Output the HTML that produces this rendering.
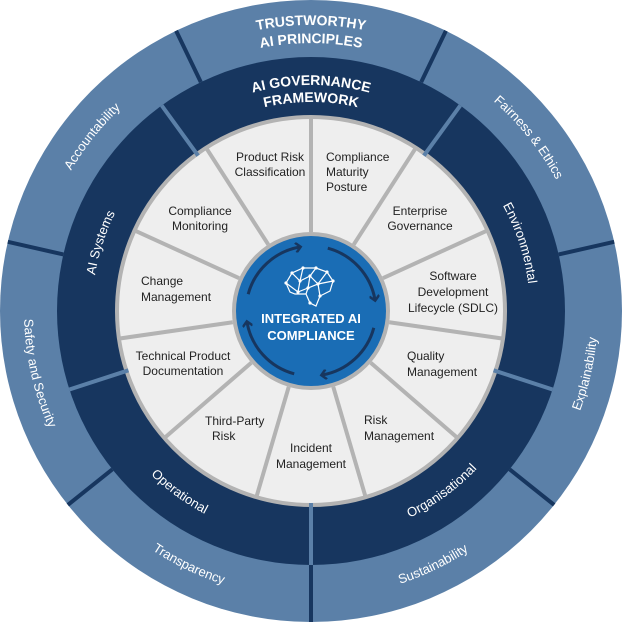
<!DOCTYPE html>
<html><head><meta charset="utf-8"><style>
html,body{margin:0;padding:0;background:#fff;}
svg{display:block;font-family:"Liberation Sans",sans-serif;}
.w{fill:#fff;font-size:13px;}
.h{fill:#fff;font-size:14px;font-weight:bold;}
.i{fill:#222;font-size:12px;}
</style></head><body>
<svg width="622" height="622" viewBox="0 0 622 622" xmlns="http://www.w3.org/2000/svg">
<defs>
<path id="cwO" d="M33,311 A278,278 0 0 1 589,311"/>
<path id="ccwO" d="M24,311 A287,287 0 0 0 598,311"/>
<path id="cwD" d="M92,311 A219,219 0 0 1 530,311"/>
<path id="ccwD" d="M82,311 A229,229 0 0 0 540,311"/>
<path id="h1" d="M25,311 A286,286 0 0 1 597,311"/>
<path id="h2" d="M43,311 A268,268 0 0 1 579,311"/>
<path id="h3" d="M85,311 A226,226 0 0 1 537,311"/>
<path id="h4" d="M102,311 A209,209 0 0 1 520,311"/>
<marker id="ar" markerWidth="10" markerHeight="10" refX="5" refY="5" orient="auto" markerUnits="userSpaceOnUse">
<path d="M1,0 L6,5 L1,10" fill="none" stroke="#17365f" stroke-width="2.5"/>
</marker>
</defs>
<circle cx="311" cy="311" r="311" fill="#5b80a8"/>
<circle cx="311" cy="311" r="254" fill="#17365f"/>
<circle cx="311" cy="311" r="194" fill="#eeeeee" stroke="#b3b3b3" stroke-width="4"/>
<!-- outer dividers -->
<g stroke="#17365f" stroke-width="4">
<line x1="311" y1="57" x2="311" y2="0" transform="rotate(25.71 311 311)"/>
<line x1="311" y1="57" x2="311" y2="0" transform="rotate(77.14 311 311)"/>
<line x1="311" y1="57" x2="311" y2="0" transform="rotate(128.57 311 311)"/>
<line x1="311" y1="57" x2="311" y2="0" transform="rotate(180 311 311)"/>
<line x1="311" y1="57" x2="311" y2="0" transform="rotate(231.43 311 311)"/>
<line x1="311" y1="57" x2="311" y2="0" transform="rotate(282.86 311 311)"/>
<line x1="311" y1="57" x2="311" y2="0" transform="rotate(334.29 311 311)"/>
</g>
<g stroke="#5b80a8" stroke-width="4">
<line x1="311" y1="119" x2="311" y2="57" transform="rotate(36 311 311)"/>
<line x1="311" y1="119" x2="311" y2="57" transform="rotate(108 311 311)"/>
<line x1="311" y1="119" x2="311" y2="57" transform="rotate(180 311 311)"/>
<line x1="311" y1="119" x2="311" y2="57" transform="rotate(252 311 311)"/>
<line x1="311" y1="119" x2="311" y2="57" transform="rotate(324 311 311)"/>
</g>
<g stroke="#b3b3b3" stroke-width="4">
<line x1="311" y1="232" x2="311" y2="117" transform="rotate(0 311 311)"/>
<line x1="311" y1="232" x2="311" y2="117" transform="rotate(32.73 311 311)"/>
<line x1="311" y1="232" x2="311" y2="117" transform="rotate(65.45 311 311)"/>
<line x1="311" y1="232" x2="311" y2="117" transform="rotate(98.18 311 311)"/>
<line x1="311" y1="232" x2="311" y2="117" transform="rotate(130.91 311 311)"/>
<line x1="311" y1="232" x2="311" y2="117" transform="rotate(163.64 311 311)"/>
<line x1="311" y1="232" x2="311" y2="117" transform="rotate(196.36 311 311)"/>
<line x1="311" y1="232" x2="311" y2="117" transform="rotate(229.09 311 311)"/>
<line x1="311" y1="232" x2="311" y2="117" transform="rotate(261.82 311 311)"/>
<line x1="311" y1="232" x2="311" y2="117" transform="rotate(294.55 311 311)"/>
<line x1="311" y1="232" x2="311" y2="117" transform="rotate(327.27 311 311)"/>
</g>
<!-- headings -->
<text class="h" text-anchor="middle"><textPath href="#h1" startOffset="50%">TRUSTWORTHY</textPath></text>
<text class="h" text-anchor="middle"><textPath href="#h2" startOffset="50%">AI PRINCIPLES</textPath></text>
<text class="h" text-anchor="middle"><textPath href="#h3" startOffset="50%">AI GOVERNANCE</textPath></text>
<text class="h" text-anchor="middle"><textPath href="#h4" startOffset="50%">FRAMEWORK</textPath></text>
<!-- outer labels -->
<g transform="rotate(51.43 311 311)"><text class="w" text-anchor="middle"><textPath href="#cwO" startOffset="50%">Fairness &amp; Ethics</textPath></text></g>
<g transform="rotate(308.57 311 311)"><text class="w" text-anchor="middle"><textPath href="#cwO" startOffset="50%">Accountability</textPath></text></g>
<g transform="rotate(-77.14 311 311)"><text class="w" text-anchor="middle"><textPath href="#ccwO" startOffset="50%">Explainability</textPath></text></g>
<g transform="rotate(-25.71 311 311)"><text class="w" text-anchor="middle"><textPath href="#ccwO" startOffset="50%">Sustainability</textPath></text></g>
<g transform="rotate(25.71 311 311)"><text class="w" text-anchor="middle"><textPath href="#ccwO" startOffset="50%">Transparency</textPath></text></g>
<g transform="rotate(77.14 311 311)"><text class="w" text-anchor="middle"><textPath href="#ccwO" startOffset="50%">Safety and Security</textPath></text></g>
<!-- dark labels -->
<g transform="rotate(72 311 311)"><text class="w" text-anchor="middle"><textPath href="#cwD" startOffset="50%">Environmental</textPath></text></g>
<g transform="rotate(288 311 311)"><text class="w" text-anchor="middle"><textPath href="#cwD" startOffset="50%">AI Systems</textPath></text></g>
<g transform="rotate(-36 311 311)"><text class="w" text-anchor="middle"><textPath href="#ccwD" startOffset="50%">Organisational</textPath></text></g>
<g transform="rotate(36 311 311)"><text class="w" text-anchor="middle"><textPath href="#ccwD" startOffset="50%">Operational</textPath></text></g>
<!-- inner labels -->
<g class="i">
<text x="270" y="161" text-anchor="middle">Product Risk</text><text x="270" y="176" text-anchor="middle">Classification</text>
<text x="326" y="161">Compliance</text><text x="326" y="176">Maturity</text><text x="326" y="191">Posture</text>
<text x="420" y="215" text-anchor="middle">Enterprise</text><text x="420" y="230" text-anchor="middle">Governance</text>
<text x="453" y="280" text-anchor="middle">Software</text><text x="453" y="296" text-anchor="middle">Development</text><text x="453" y="312" text-anchor="middle">Lifecycle (SDLC)</text>
<text x="407" y="360">Quality</text><text x="407" y="376">Management</text>
<text x="364" y="424">Risk</text><text x="364" y="440">Management</text>
<text x="311" y="452" text-anchor="middle">Incident</text><text x="311" y="468" text-anchor="middle">Management</text>
<text x="205" y="425">Third-Party</text><text x="212" y="440">Risk</text>
<text x="183" y="360" text-anchor="middle">Technical Product</text><text x="183" y="375" text-anchor="middle">Documentation</text>
<text x="141" y="285">Change</text><text x="141" y="301">Management</text>
<text x="200" y="215" text-anchor="middle">Compliance</text><text x="200" y="230" text-anchor="middle">Monitoring</text>
</g>
<!-- center -->
<circle cx="311" cy="311" r="77" fill="#1a6db5" stroke="#b3b3b3" stroke-width="4"/>
<g fill="none" stroke="#17365f" stroke-width="3" marker-end="url(#ar)">
<path d="M248.2,294.2 A65,65 0 0 1 299.7,247"/>
<path d="M327.8,248.2 A65,65 0 0 1 375,299.7"/>
<path d="M373.8,327.8 A65,65 0 0 1 322.3,375"/>
<path d="M294.2,373.8 A65,65 0 0 1 247,322.3"/>
</g>
<g fill="none" stroke="#fff" stroke-width="1.2">
<path d="M290,292 L286,283 L292,273 L303,268 L316,268 L327,272 L333,281 L330,291 L320,296 L316,306 L310,303 L306,294 L295,294 Z"/>
<path d="M292,273 L300,281 L303,268 M300,281 L310,276 L316,268 M310,276 L318,284 L327,272 M318,284 L333,281 M300,281 L298,292 M310,276 L308,288 L318,284 L320,296 M308,288 L306,294 M286,283 L298,292 L308,288"/>
</g>
<g fill="#fff">
<circle cx="292" cy="273" r="1.6"/><circle cx="303" cy="268" r="1.6"/><circle cx="316" cy="268" r="1.6"/><circle cx="327" cy="272" r="1.6"/><circle cx="333" cy="281" r="1.6"/><circle cx="300" cy="281" r="1.6"/><circle cx="310" cy="276" r="1.6"/><circle cx="318" cy="284" r="1.6"/><circle cx="308" cy="288" r="1.6"/><circle cx="298" cy="292" r="1.6"/><circle cx="286" cy="283" r="1.6"/><circle cx="320" cy="296" r="1.6"/><circle cx="310" cy="303" r="1.6"/>
</g>
<text x="311" y="323" text-anchor="middle" fill="#fff" font-size="13" font-weight="bold">INTEGRATED AI</text>
<text x="311" y="340" text-anchor="middle" fill="#fff" font-size="13" font-weight="bold">COMPLIANCE</text>
</svg>
</body></html>
